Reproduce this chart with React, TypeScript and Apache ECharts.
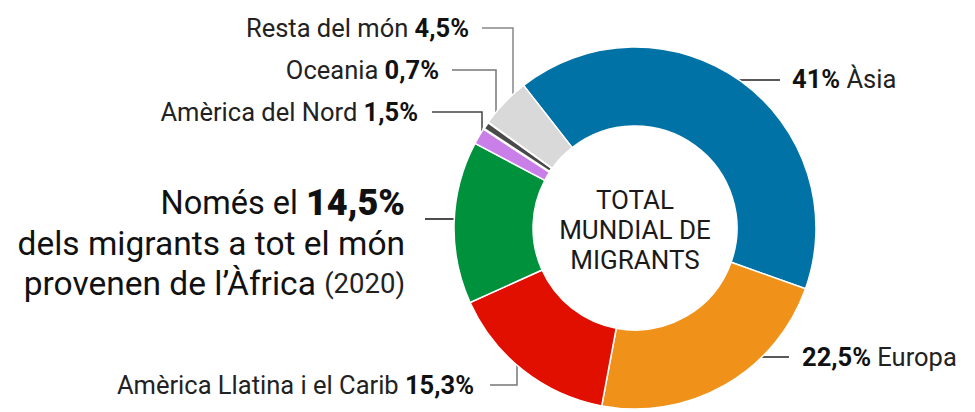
import React, { useEffect, useRef } from "react";
import * as echarts from "echarts";

const regions = ["Àsia", "Europa", "Amèrica Llatina i el Carib", "Àfrica", "Amèrica del Nord", "Oceania", "Resta del món"];
const shares = [41, 22.5, 15.3, 14.5, 1.5, 0.7, 4.5];
const sliceColors = ["#0072a5", "#f09219", "#e00f00", "#00913c", "#c97ee8", "#4a4a4a", "#d9d9d9"];
const centerTitle = ["TOTAL", "MUNDIAL DE", "MIGRANTS"];
const africaLines = ["Només el", "dels migrants a tot el món", "provenen de l’Àfrica", "(2020)"];

// label anchor layout (pixels) per slice index
const labelLayouts: any[] = [
  { x: 792, y: 79, align: "left", pts: [[710, 80], [780, 80]], line: "#222" },
  { x: 802, y: 357, align: "left", pts: [[748, 357], [789, 357]], line: "#222" },
  { x: 474, y: 385, align: "right", pts: [[517, 353], [517, 385], [490, 385]], line: "#777" },
  { x: 405, y: 183, align: "right", vtop: true, pts: [[481, 219], [425, 219]], line: "#111" },
  { x: 418, y: 112, align: "right", pts: [[482, 143], [482, 112], [432, 112]], line: "#444" },
  { x: 439, y: 70, align: "right", pts: [[496, 131], [496, 70], [452, 70]], line: "#777" },
  { x: 469, y: 28, align: "right", pts: [[513, 114], [513, 28], [482, 28]], line: "#888" },
];

const fmt = (v: number) => String(v).replace(".", ",") + "%";

export default function App() {
  const ref = useRef<HTMLDivElement>(null);
  useEffect(() => {
    document.body.style.margin = "0";
    const chart = echarts.init(ref.current!, null, { renderer: "svg" });
    const data = regions.map((name, i) => ({
      name,
      value: shares[i],
      itemStyle: {
        color: sliceColors[i],
        borderColor: "#fff",
        borderWidth: name === "Oceania" ? 2.5 : 1.5,
      },
      labelLine: { lineStyle: { color: labelLayouts[i].line, width: 1.5 } },
    }));
    chart.setOption({
      animation: false,
      backgroundColor: "#fff",
      textStyle: { fontFamily: "Roboto" },
      series: [
        {
          type: "pie",
          center: [635, 228],
          radius: [102, 181],
          startAngle: 128,
          clockwise: true,
          silent: true,
          data,
          label: {
            show: true,
            fontFamily: "Roboto",
            fontSize: 25.5,
            color: "#222",
            formatter: (p: any) => {
              const i = p.dataIndex;
              const pct = fmt(p.value);
              if (i === 3) {
                return (
                  `{big1|${africaLines[0]} }{bigb|${pct}}\n` +
                  `{big|${africaLines[1]}}\n` +
                  `{big|${africaLines[2]} }{small|${africaLines[3]}}`
                );
              }
              if (labelLayouts[i].align === "left") return `{b|${pct}} {t|${p.name}}`;
              return `{t|${p.name}} {b|${pct}}`;
            },
            rich: {
              t: { fontSize: 25.5, color: "#222", fontFamily: "Roboto" },
              b: { fontSize: 25.5, fontWeight: "bold", color: "#111", fontFamily: "Roboto" },
              big1: { fontSize: 32.5, color: "#111", lineHeight: 40, align: "right", fontFamily: "Roboto" },
              big: { fontSize: 33.5, color: "#111", lineHeight: 40, align: "right", fontFamily: "Roboto" },
              bigb: { fontSize: 36, fontWeight: 900, color: "#111", lineHeight: 40, align: "right", fontFamily: "Roboto" },
              small: { fontSize: 27.5, color: "#222", lineHeight: 40, align: "right", fontFamily: "Roboto" },
            },
          },
          labelLine: { show: true, length: 10, length2: 10 },
          labelLayout: (params: any) => {
            const L = labelLayouts[params.dataIndex];
            return {
              x: L.x,
              y: L.y,
              align: L.align,
              verticalAlign: L.vtop ? "top" : "middle",
              labelLinePoints: L.pts,
              hideOverlap: false,
              moveOverlap: false,
            };
          },
        },
      ],
      graphic: [
        {
          type: "text",
          x: 635,
          y: 230,
          style: {
            text: centerTitle.join("\n"),
            fontFamily: "Roboto",
            fontSize: 26,
            lineHeight: 30,
            fill: "#1a1a1a",
            align: "center",
            verticalAlign: "middle",
          },
        },
      ],
    });
    return () => chart.dispose();
  }, []);
  return <div ref={ref} style={{ width: 975, height: 412 }} />;
}
